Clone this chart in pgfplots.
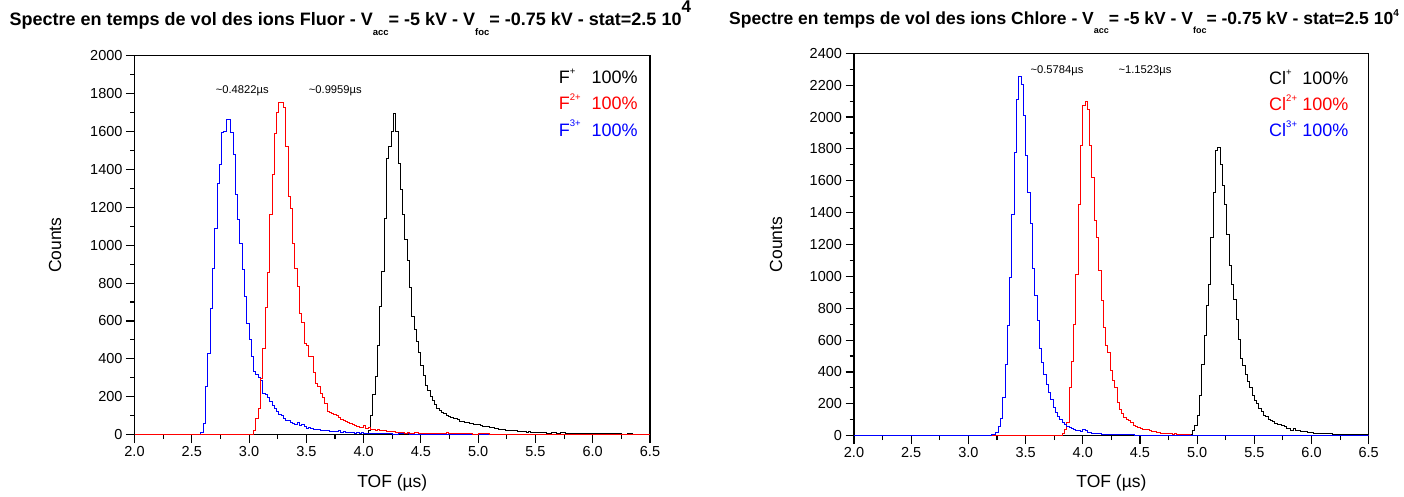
\documentclass[border=0pt]{standalone}
\usepackage{pgfplots}
\pgfplotsset{compat=1.18}
\usepackage{fontspec}
\setmainfont{Liberation Sans}
\begin{document}
\begin{tikzpicture}[x=1pt,y=1pt]
\useasboundingbox (0,0) rectangle (1404,497);
\pgfplotsset{tofaxis/.style={
  scale only axis, xmin=2, xmax=6.5, ymin=0,
  xtick={2,2.5,3,3.5,4,4.5,5,5.5,6,6.5},
  minor x tick num=1, minor y tick num=1,
  tick align=outside, tick pos=left,
  major tick length=8.5pt, minor tick length=4.5pt,
  /pgf/number format/assume math mode=true,
  /pgf/number format/1000 sep={},
  scaled ticks=false,
  xticklabel style={/pgf/number format/.cd, fixed, fixed zerofill, precision=1},
  tick label style={font=\fontsize{14.5}{16}\selectfont},
  axis line style={line width=1.1pt},
  every tick/.style={line width=1.1pt, black},
  every axis plot/.append style={line width=0.9pt, const plot, no markers},
}}
% ---------------- Left: Fluor ----------------
\begin{axis}[tofaxis, at={(134.5pt,62.3pt)}, anchor=south west,
  width=515.5pt, height=379pt, ymax=2000, ytick={0,200,...,2000}]
\addplot[black] coordinates {(2.0,0) (4.02,0) (4.04,23) (4.06,100) (4.08,210) (4.10,305) (4.12,472) (4.14,675) (4.16,860) (4.18,1143) (4.20,1460) (4.22,1522) (4.24,1600) (4.26,1695) (4.28,1598) (4.30,1434) (4.32,1296) (4.34,1160) (4.36,1030) (4.38,920) (4.40,776) (4.42,624) (4.44,554) (4.46,490) (4.48,434) (4.50,364) (4.52,314) (4.54,261) (4.56,235) (4.58,200) (4.60,182) (4.62,160) (4.64,138) (4.66,128) (4.68,118) (4.70,110) (4.72,104) (4.74,95) (4.76,92) (4.78,88) (4.80,85) (4.82,78) (4.84,72) (4.86,70) (4.88,66) (4.90,62) (4.92,58) (4.94,60) (4.96,55) (4.98,52) (5.00,55) (5.02,48) (5.04,45) (5.06,42) (5.08,44) (5.10,40) (5.12,36) (5.14,33) (5.16,34) (5.18,30) (5.20,28) (5.22,27) (5.24,24) (5.26,25) (5.28,21) (5.30,20) (5.32,22) (5.34,18) (5.36,17) (5.38,18) (5.40,15) (5.42,14) (5.44,16) (5.46,13) (5.48,12) (5.50,14) (5.52,11) (5.54,12) (5.56,10) (5.58,12) (5.60,9) (5.64,10) (5.68,8) (5.72,10) (5.76,7) (5.80,8) (5.84,6) (5.88,8) (5.92,6) (5.96,7) (6.00,5) (6.05,6) (6.10,4) (6.15,5) (6.20,4) (6.25,3) (6.30,4) (6.35,3) (6.40,2) (6.45,3) (6.5,2)};
\addplot[blue] coordinates {(2.0,0) (2.56,0) (2.58,10) (2.60,58) (2.62,252) (2.64,428) (2.66,667) (2.68,875) (2.70,1090) (2.72,1328) (2.74,1425) (2.76,1593) (2.78,1600) (2.80,1663) (2.82,1663) (2.84,1596) (2.86,1478) (2.88,1266) (2.90,1134) (2.92,1010) (2.94,870) (2.96,728) (2.98,587) (3.00,503) (3.02,411) (3.04,332) (3.06,320) (3.08,302) (3.10,287) (3.12,220) (3.14,213) (3.16,196) (3.18,173) (3.20,155) (3.22,138) (3.24,125) (3.26,108) (3.28,102) (3.30,85) (3.32,76) (3.34,76) (3.36,63) (3.38,58) (3.40,53) (3.42,62) (3.44,50) (3.46,55) (3.48,45) (3.50,32) (3.52,38) (3.54,35) (3.56,30) (3.58,28) (3.60,30) (3.62,25) (3.64,22) (3.66,25) (3.68,20) (3.70,18) (3.72,15) (3.74,18) (3.76,15) (3.78,20) (3.80,12) (3.82,15) (3.84,12) (3.86,14) (3.88,10) (3.90,12) (3.92,8) (3.94,10) (3.96,8) (3.98,11) (4.00,6) (4.04,7) (4.08,5) (4.12,6) (4.16,4) (4.20,5) (4.25,3) (4.30,4) (4.40,2) (4.50,3) (4.60,2) (4.80,1) (5.00,2) (5.20,1) (5.50,1) (6.00,1) (6.5,1)};
\addplot[red] coordinates {(2.0,0) (3.02,0) (3.04,23) (3.06,85) (3.08,140) (3.10,296) (3.12,455) (3.14,674) (3.16,856) (3.18,1160) (3.20,1372) (3.22,1592) (3.24,1700) (3.26,1755) (3.28,1755) (3.30,1725) (3.32,1522) (3.34,1257) (3.36,1196) (3.38,1010) (3.40,878) (3.42,781) (3.44,640) (3.46,590) (3.48,480) (3.50,470) (3.52,411) (3.54,411) (3.56,326) (3.58,273) (3.60,252) (3.62,220) (3.64,199) (3.66,164) (3.68,125) (3.70,120) (3.72,111) (3.74,108) (3.76,102) (3.78,93) (3.80,80) (3.82,76) (3.84,72) (3.86,62) (3.88,58) (3.90,55) (3.92,49) (3.94,44) (3.96,40) (3.98,37) (4.00,49) (4.02,35) (4.04,37) (4.06,30) (4.08,28) (4.10,25) (4.12,26) (4.14,22) (4.16,20) (4.18,22) (4.20,18) (4.22,17) (4.24,15) (4.26,18) (4.28,12) (4.30,14) (4.32,10) (4.34,12) (4.36,9) (4.38,10) (4.40,8) (4.44,10) (4.48,7) (4.52,9) (4.56,6) (4.60,8) (4.64,5) (4.68,7) (4.72,12) (4.74,9) (4.76,5) (4.80,6) (4.85,4) (4.90,5) (4.95,3) (5.00,4) (5.10,3) (5.20,2) (5.30,3) (5.40,2) (5.60,2) (5.80,1) (6.00,2) (6.20,1) (6.5,1)};
\end{axis}
% ---------------- Right: Chlore ----------------
\begin{axis}[tofaxis, at={(854pt,61.3pt)}, anchor=south west,
  width=514.7pt, height=382.4pt, ymax=2400, ytick={0,200,...,2400}]
\addplot[black] coordinates {(2.0,0) (4.92,0) (4.94,10) (4.96,30) (4.98,63) (5.00,130) (5.02,250) (5.04,450) (5.06,628) (5.08,816) (5.10,952) (5.12,1245) (5.14,1527) (5.16,1789) (5.18,1810) (5.20,1705) (5.22,1569) (5.24,1454) (5.26,1266) (5.28,1067) (5.30,952) (5.32,858) (5.34,732) (5.36,602) (5.38,485) (5.40,439) (5.42,387) (5.44,341) (5.46,303) (5.48,251) (5.50,220) (5.52,203) (5.54,172) (5.56,150) (5.58,130) (5.60,121) (5.62,105) (5.64,94) (5.66,88) (5.68,77) (5.70,73) (5.72,71) (5.74,63) (5.76,56) (5.78,46) (5.80,46) (5.82,36) (5.84,46) (5.86,31) (5.88,30) (5.90,28) (5.92,27) (5.94,25) (5.96,22) (5.98,21) (6.00,19) (6.02,17) (6.04,15) (6.06,16) (6.08,13) (6.10,12) (6.14,11) (6.18,10) (6.22,9) (6.26,8) (6.30,8) (6.35,7) (6.40,6) (6.45,6) (6.5,5)};
\addplot[red] coordinates {(2.0,0) (3.80,0) (3.82,15) (3.84,40) (3.86,84) (3.88,303) (3.90,464) (3.92,700) (3.94,1015) (3.96,1454) (3.98,1820) (4.00,2071) (4.02,2096) (4.04,2050) (4.06,1820) (4.08,1621) (4.10,1349) (4.12,1245) (4.14,1036) (4.16,847) (4.18,680) (4.20,565) (4.22,523) (4.24,408) (4.26,345) (4.28,303) (4.30,209) (4.32,163) (4.34,142) (4.36,115) (4.38,105) (4.40,94) (4.42,84) (4.44,63) (4.46,60) (4.48,52) (4.50,46) (4.52,42) (4.54,38) (4.56,38) (4.58,31) (4.60,28) (4.62,25) (4.64,21) (4.66,22) (4.68,17) (4.70,17) (4.72,14) (4.74,15) (4.76,12) (4.78,10) (4.80,11) (4.82,8) (4.84,9) (4.86,6) (4.88,7) (4.90,5) (4.94,4) (5.00,3) (5.10,2) (5.30,2) (5.60,1) (6.00,1) (6.5,1)};
\addplot[blue] coordinates {(2.0,0) (3.16,0) (3.18,3) (3.20,5) (3.22,8) (3.24,21) (3.26,60) (3.28,109) (3.30,240) (3.32,450) (3.34,690) (3.36,994) (3.38,1391) (3.40,1778) (3.42,2113) (3.44,2255) (3.46,2207) (3.48,2008) (3.50,1757) (3.52,1527) (3.54,1335) (3.56,1050) (3.58,883) (3.60,722) (3.62,548) (3.64,460) (3.66,387) (3.68,324) (3.70,272) (3.72,230) (3.74,178) (3.76,146) (3.78,121) (3.80,105) (3.82,84) (3.84,69) (3.86,58) (3.88,52) (3.90,45) (3.92,40) (3.94,31) (3.96,31) (3.98,25) (4.00,38) (4.02,31) (4.04,21) (4.06,20) (4.08,17) (4.10,15) (4.12,12) (4.14,14) (4.16,10) (4.20,8) (4.24,9) (4.28,6) (4.32,7) (4.36,5) (4.40,6) (4.45,4) (4.50,4) (4.60,3) (4.70,3) (4.80,2) (5.00,2) (5.20,1) (5.50,1) (6.00,1) (6.5,1)};
\end{axis}
% ---------------- Axis labels ----------------
\node[rotate=90, font=\fontsize{17.5}{20}\selectfont] at (55,251.8) {Counts};
\node[rotate=90, font=\fontsize{17.5}{20}\selectfont] at (776,252.5) {Counts};
\node[font=\fontsize{17.5}{20}\selectfont] at (392.3,14) {TOF (µs)};
\node[font=\fontsize{17.5}{20}\selectfont] at (1111.4,14) {TOF (µs)};
% ---------------- Titles ----------------
\node[anchor=base west, inner sep=0, font=\bfseries\fontsize{18}{20}\selectfont] at (9.5,471)
 {Spectre en temps de vol des ions Fluor - V\raisebox{-9.5pt}{\fontsize{9.5}{10}\selectfont acc}= -5 kV - V\raisebox{-9.5pt}{\fontsize{9.5}{10}\selectfont foc}= -0.75 kV - stat=2.5 10\raisebox{13pt}{\fontsize{17}{18}\selectfont 4}};
\node[anchor=base west, inner sep=0, font=\bfseries\fontsize{17.5}{19}\selectfont] at (729,472)
 {Spectre en temps de vol des ions Chlore - V\raisebox{-9pt}{\fontsize{9}{10}\selectfont acc}= -5 kV - V\raisebox{-9pt}{\fontsize{9}{10}\selectfont foc}= -0.75 kV - stat=2.5 10\raisebox{8pt}{\fontsize{10}{11}\selectfont 4}};
% ---------------- Annotations ----------------
\node[font=\fontsize{11.2}{13}\selectfont] at (242.2,406) {\textasciitilde 0.4822µs};
\node[font=\fontsize{11.2}{13}\selectfont] at (335.3,406) {\textasciitilde 0.9959µs};
\node[font=\fontsize{11.2}{13}\selectfont] at (1057,425.8) {\textasciitilde 0.5784µs};
\node[font=\fontsize{11.2}{13}\selectfont] at (1145,425.8) {\textasciitilde 1.1523µs};
% ---------------- Legends ----------------
\begin{scope}[every node/.style={inner sep=0, font=\fontsize{18}{20}\selectfont}]
\node[anchor=base west] at (558.6,413.6) {F\raisebox{9.3pt}{\fontsize{9.5}{10}\selectfont +}};
\node[anchor=base east] at (637.9,413.6) {100\%};
\node[anchor=base west, text=red] at (558.6,387) {F\raisebox{9.3pt}{\fontsize{9.5}{10}\selectfont 2+}};
\node[anchor=base east, text=red] at (637.9,387) {100\%};
\node[anchor=base west, text=blue] at (558.6,360.8) {F\raisebox{9.3pt}{\fontsize{9.5}{10}\selectfont 3+}};
\node[anchor=base east, text=blue] at (637.9,360.8) {100\%};
\node[anchor=base west] at (1269,412.2) {Cl\raisebox{9.3pt}{\fontsize{9.5}{10}\selectfont +}};
\node[anchor=base east] at (1348.6,412.2) {100\%};
\node[anchor=base west, text=red] at (1269,386.1) {Cl\raisebox{9.3pt}{\fontsize{9.5}{10}\selectfont 2+}};
\node[anchor=base east, text=red] at (1348.6,386.1) {100\%};
\node[anchor=base west, text=blue] at (1269,360.6) {Cl\raisebox{9.3pt}{\fontsize{9.5}{10}\selectfont 3+}};
\node[anchor=base east, text=blue] at (1348.6,360.6) {100\%};
\end{scope}
\end{tikzpicture}
\end{document}
